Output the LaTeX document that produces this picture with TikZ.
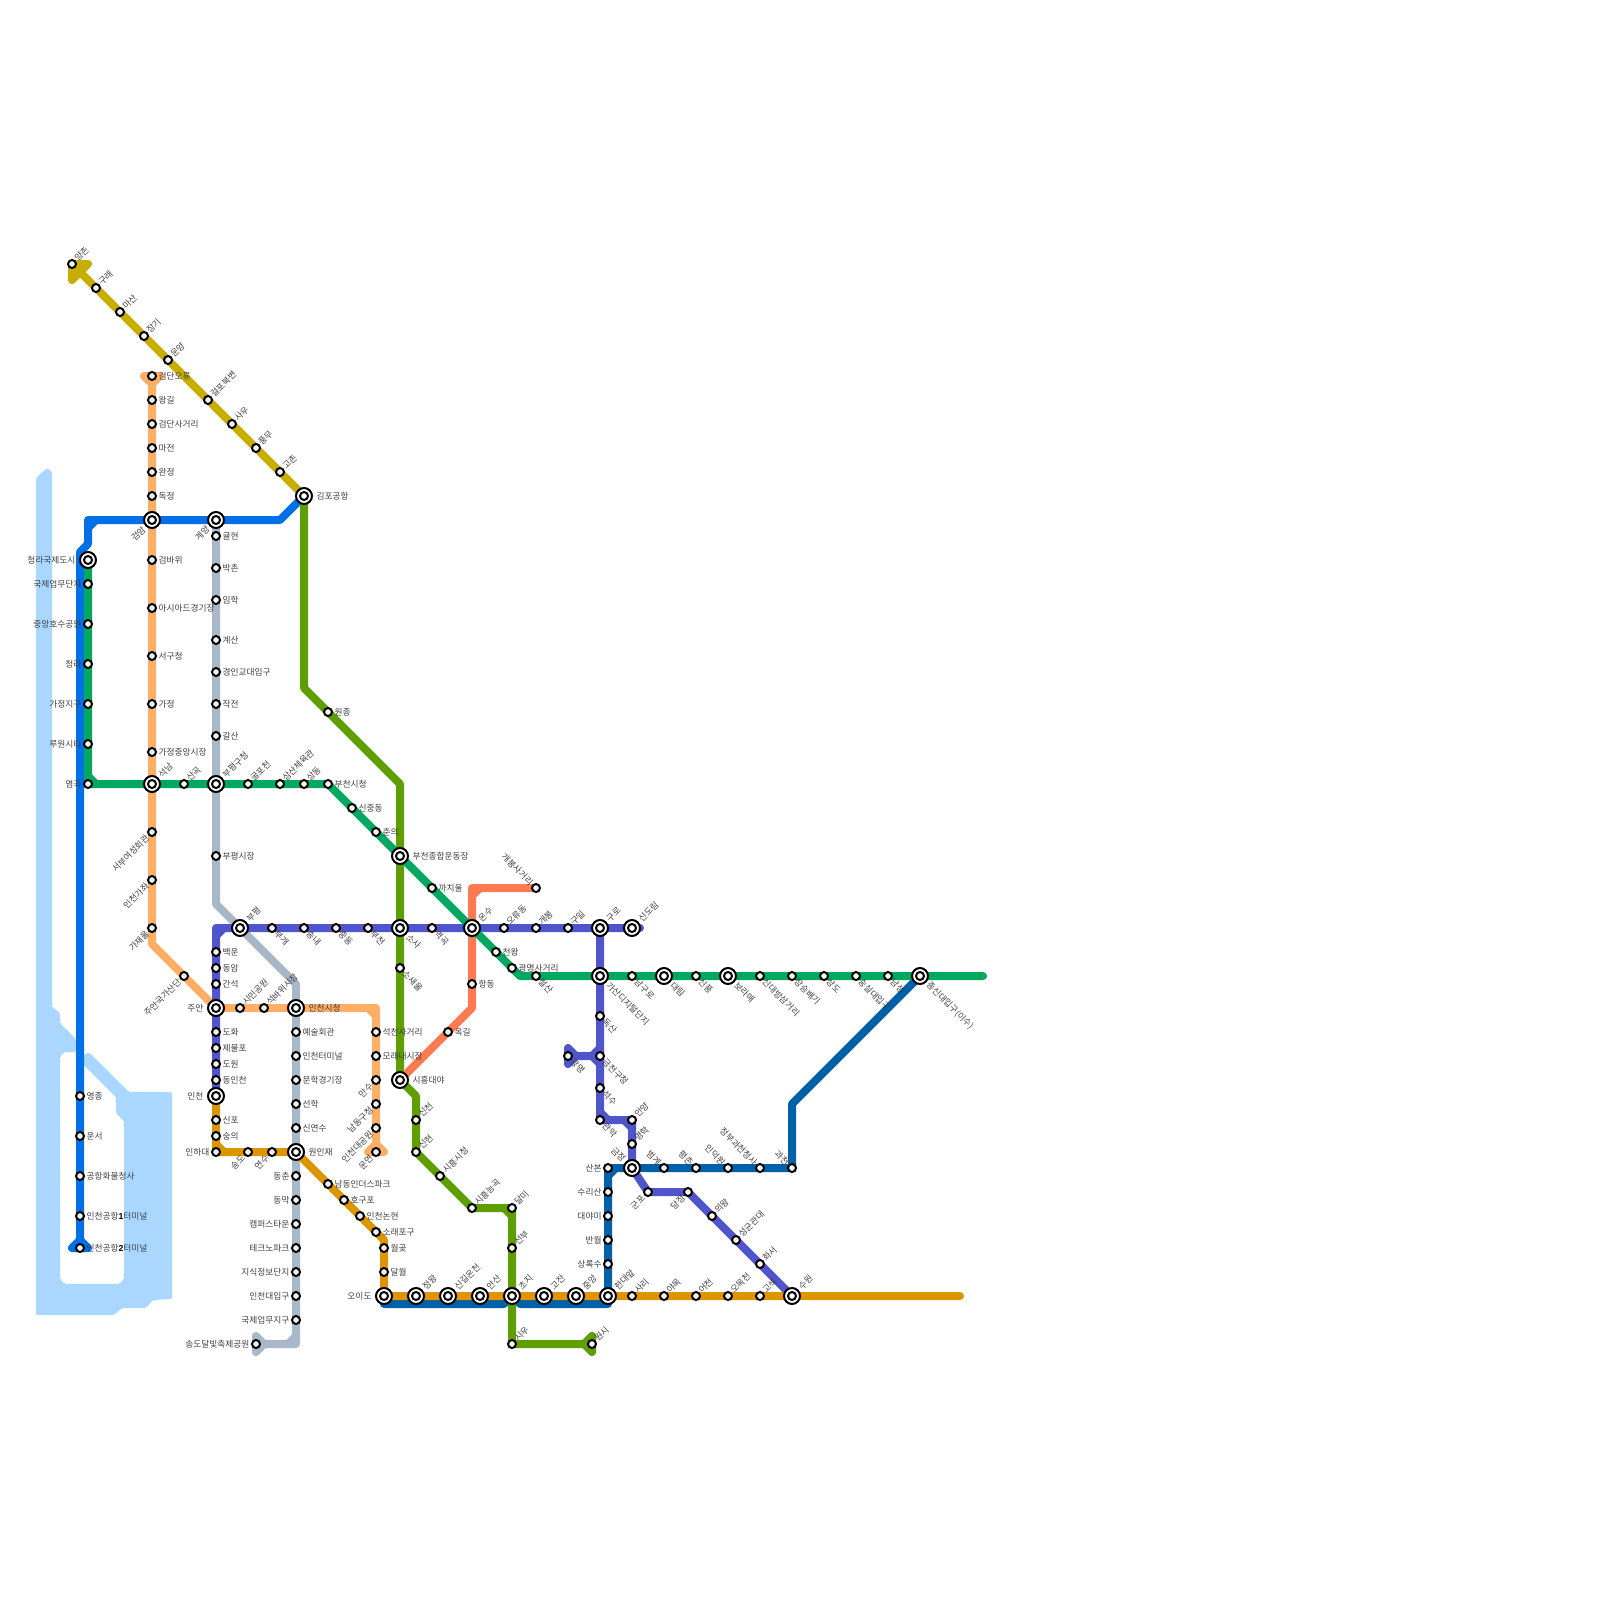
\documentclass[tikz,border=0pt]{standalone}
\usepackage{fontspec}
\setmainfont{Noto Sans CJK KR}
\newfontfamily\dgtfont{Liberation Sans}
\usetikzlibrary{calc}
\pgfdeclarelayer{bg}
\pgfsetlayers{bg,main}
\definecolor{cwater}{HTML}{A9D7FF}
\definecolor{cfive}{HTML}{C8AE00}
\definecolor{cair}{HTML}{0070E6}
\definecolor{cgreen}{HTML}{00A860}
\definecolor{corange}{HTML}{FFAE66}
\definecolor{cgrey}{HTML}{A8B8C8}
\definecolor{cpurple}{HTML}{5055CC}
\definecolor{colive}{HTML}{5F9E00}
\definecolor{cred}{HTML}{FF7A50}
\definecolor{cblue}{HTML}{0060A8}
\definecolor{cgold}{HTML}{DD9500}
\definecolor{ctext}{HTML}{404040}
\tikzset{
  rail/.style={line width=8pt,line join=round,line cap=round},
  flare/.style={line width=8pt,line join=round,fill=#1,draw=#1},
  smallst/.style={circle,draw=black,fill=white,line width=2pt,minimum size=8pt,inner sep=0pt},
  bigst/.style={circle,draw=black,fill=white,line width=2pt,minimum size=16pt,inner sep=0pt,
    path picture={\draw[black,line width=2pt] (path picture bounding box.center) circle[radius=4pt];}},
  lbl/.style={inner sep=0pt,outer sep=0pt,text=ctext,font=\fontsize{8.7}{8.7}\selectfont},
  lR/.style={anchor=west},
  lL/.style={anchor=east},
  lUR/.style={anchor=west,rotate=45},
  lDR/.style={anchor=west,rotate=-45},
  lDL/.style={anchor=east,rotate=45},
  lUL/.style={anchor=east,rotate=-45},
}
\newcommand{\dR}{6.5,0}\newcommand{\dL}{-6.5,0}
\newcommand{\dUR}{4,-4.5}\newcommand{\dDR}{4,4.5}
\newcommand{\dDL}{-4.5,4.5}\newcommand{\dUL}{-4.5,-4.5}
\newcommand{\bR}{12.5,0}\newcommand{\bL}{-12.5,0}
\newcommand{\bUR}{8,-8}\newcommand{\bDR}{8,8}
\newcommand{\bDL}{-8,8}\newcommand{\bUL}{-8,-8}
\newcommand{\stn}[5]{\node[smallst] (#1) at (#2,#3) {};
  \node[lbl,l#4] (#1t) at ([shift={(\csname d#4\endcsname)}]#1.center) {#5};}
\newcommand{\ist}[5]{\node[bigst] (#1) at (#2,#3) {};
  \node[lbl,l#4] (#1t) at ([shift={(\csname b#4\endcsname)}]#1.center) {#5};}
\begin{document}
\begin{tikzpicture}[x=1pt,y=-1pt]
\useasboundingbox (0,0) rectangle (1600,1600);
% Line 5
\stn{yangchon}{72}{264}{UR}{양촌}
\stn{gurae}{96}{288}{UR}{구래}
\stn{masan}{120}{312}{UR}{마산}
\stn{janggi}{144}{336}{UR}{장기}
\stn{unyang}{168}{360}{UR}{운양}
\stn{geolpo}{208}{400}{UR}{걸포북변}
\stn{sau}{232}{424}{UR}{사우}
\stn{pungmu}{256}{448}{UR}{풍무}
\stn{gochon}{280}{472}{UR}{고촌}
\ist{gimpo}{304}{496}{R}{김포공항}
% Seo-gu orange
\stn{oryu}{152}{376}{R}{검단오류}
\stn{wanggil}{152}{400}{R}{왕길}
\stn{geomdan}{152}{424}{R}{검단사거리}
\stn{majeon}{152}{448}{R}{마전}
\stn{wanjeong}{152}{472}{R}{완정}
\stn{dokjeong}{152}{496}{R}{독정}
\ist{geomam}{152}{520}{DL}{검암}
\stn{geombawi}{152}{560}{R}{검바위}
\stn{asiad}{152}{608}{R}{아시아드경기장}
\stn{seogu}{152}{656}{R}{서구청}
\stn{gajeong}{152}{704}{R}{가정}
\stn{gjmarket}{152}{752}{R}{가정중앙시장}
\ist{seoknam}{152}{784}{UR}{석남}
\stn{seobu}{152}{832}{DL}{서부여성회관}
\stn{gajwa}{152}{880}{DL}{인천가좌}
\stn{gajaeul}{152}{928}{DL}{가재울}
\stn{juangs}{184}{976}{DL}{주안국가산단}
\ist{juan}{216}{1008}{L}{주안}
\stn{simin}{240}{1008}{UR}{시민공원}
\stn{seokbawi}{264}{1008}{UR}{석바위시장}
\ist{cityhall}{296}{1008}{R}{인천시청}
\stn{seokcheon}{376}{1032}{R}{석천사거리}
\stn{moraenae}{376}{1056}{R}{모래내시장}
\stn{mansu}{376}{1080}{DL}{만수}
\stn{namdong}{376}{1104}{DL}{남동구청}
\stn{daegongwon}{376}{1128}{DL}{인천대공원}
\stn{unyeon}{376}{1152}{DL}{운연}
% Grey
\ist{gyeyang}{216}{520}{DL}{계양}
\stn{gyulhyeon}{216}{536}{R}{귤현}
\stn{bakchon}{216}{568}{R}{박촌}
\stn{imhak}{216}{600}{R}{임학}
\stn{gyesan}{216}{640}{R}{계산}
\stn{gyodae}{216}{672}{R}{경인교대입구}
\stn{jakjeon}{216}{704}{R}{작전}
\stn{galsan}{216}{736}{R}{갈산}
\ist{bpgucheong}{216}{784}{UR}{부평구청}
\stn{bpmarket}{216}{856}{R}{부평시장}
\ist{bupyeong}{240}{928}{UR}{부평}
\stn{yesul}{296}{1032}{R}{예술회관}
\stn{terminal}{296}{1056}{R}{인천터미널}
\stn{munhak}{296}{1080}{R}{문학경기장}
\stn{seonhak}{296}{1104}{R}{선학}
\stn{sinyeonsu}{296}{1128}{R}{신연수}
\ist{woninjae}{296}{1152}{R}{원인재}
\stn{dongchun}{296}{1176}{L}{동춘}
\stn{dongmak}{296}{1200}{L}{동막}
\stn{campus}{296}{1224}{L}{캠퍼스타운}
\stn{techno}{296}{1248}{L}{테크노파크}
\stn{jisik}{296}{1272}{L}{지식정보단지}
\stn{incheonu}{296}{1296}{L}{인천대입구}
\stn{gukje}{296}{1320}{L}{국제업무지구}
\stn{dalbit}{256}{1344}{L}{송도달빛축제공원}
% Airport
\ist{cheongnaic}{88}{560}{L}{청라국제도시}
\stn{yeongjong}{80}{1096}{R}{영종}
\stn{unseo}{80}{1136}{R}{운서}
\stn{cargo}{80}{1176}{R}{공항화물청사}
\stn{tone}{80}{1216}{R}{인천공항{\dgtfont\bfseries\color{black}1}터미널}
\stn{ttwo}{80}{1248}{R}{인천공항{\dgtfont\bfseries\color{black}2}터미널}
% Green
\stn{gukjeup}{88}{584}{L}{국제업무단지}
\stn{jungang}{88}{624}{L}{중앙호수공원}
\stn{cheongna}{88}{664}{L}{청라}
\stn{gjjigu}{88}{704}{L}{가정지구}
\stn{ruwon}{88}{744}{L}{루원시티}
\stn{yeomgok}{88}{784}{L}{염곡}
\stn{sangok}{184}{784}{UR}{산곡}
\stn{gulpo}{248}{784}{UR}{굴포천}
\stn{samsan}{280}{784}{UR}{삼산체육관}
\stn{sangdong}{304}{784}{UR}{상동}
\stn{bucheoncity}{328}{784}{R}{부천시청}
\stn{sinjung}{352}{808}{R}{신중동}
\stn{chunui}{376}{832}{R}{춘의}
\ist{bcstadium}{400}{856}{R}{부천종합운동장}
\stn{kkachi}{432}{888}{R}{까치울}
\ist{onsu}{472}{928}{UR}{온수}
\stn{cheonwang}{496}{952}{R}{천왕}
\stn{gwangsa}{512}{968}{R}{광명사거리}
\stn{cheolsan}{536}{976}{DR}{철산}
\ist{gasan}{600}{976}{DR}{가산디지털단지}
\stn{namguro}{632}{976}{DR}{남구로}
\ist{daerim}{664}{976}{DR}{대림}
\stn{sinpung}{696}{976}{DR}{신풍}
\ist{boramae}{728}{976}{DR}{보라매}
\stn{sindaebang}{760}{976}{DR}{신대방삼거리}
\stn{jangseung}{792}{976}{DR}{장승배기}
\stn{sangdo}{824}{976}{DR}{상도}
\stn{soongsil}{856}{976}{DR}{숭실대입구}
\stn{namseong}{888}{976}{DR}{남성}
\ist{chongsin}{920}{976}{DR}{총신대입구(이수)}
% Purple
\stn{baegun}{216}{952}{R}{백운}
\stn{dongam}{216}{968}{R}{동암}
\stn{ganseok}{216}{984}{R}{간석}
\stn{dohwa}{216}{1032}{R}{도화}
\stn{jemulpo}{216}{1048}{R}{제물포}
\stn{dowon}{216}{1064}{R}{도원}
\stn{dongincheon}{216}{1080}{R}{동인천}
\ist{incheon}{216}{1096}{L}{인천}
\stn{bugae}{272}{928}{DR}{부개}
\stn{songnae}{304}{928}{DR}{송내}
\stn{jungdong}{336}{928}{DR}{중동}
\stn{bucheon}{368}{928}{DR}{부천}
\ist{sosa}{400}{928}{DR}{소사}
\stn{yeokgok}{432}{928}{DR}{역곡}
\stn{oryudong}{504}{928}{UR}{오류동}
\stn{gaebong}{536}{928}{UR}{개봉}
\stn{guil}{568}{928}{UR}{구일}
\ist{guro}{600}{928}{UR}{구로}
\ist{sindorim}{632}{928}{UR}{신도림}
\stn{doksan}{600}{1016}{DR}{독산}
\stn{geumcheon}{600}{1056}{DR}{금천구청}
\stn{gwangmyeong}{568}{1056}{DR}{광명}
\stn{seoksu}{600}{1088}{DR}{석수}
\stn{gwanak}{600}{1120}{DR}{관악}
\stn{anyang}{632}{1120}{UR}{안양}
\stn{myeonghak}{632}{1144}{UR}{명학}
\ist{geumjeong}{632}{1168}{UL}{금정}
\stn{gunpo}{648}{1192}{DL}{군포}
\stn{dangjeong}{688}{1192}{DL}{당정}
\stn{uiwang}{712}{1216}{UR}{의왕}
\stn{skku}{736}{1240}{UR}{성균관대}
\stn{hwaseo}{760}{1264}{UR}{화서}
\ist{suwon}{792}{1296}{UR}{수원}
% Blue
\stn{sanbon}{608}{1168}{L}{산본}
\stn{surisan}{608}{1192}{L}{수리산}
\stn{daeyami}{608}{1216}{L}{대야미}
\stn{banwol}{608}{1240}{L}{반월}
\stn{sangnoksu}{608}{1264}{L}{상록수}
\stn{beomgye}{664}{1168}{UL}{범계}
\stn{pyeongchon}{696}{1168}{UL}{평촌}
\stn{indeogwon}{728}{1168}{UL}{인덕원}
\stn{gwacheonch}{760}{1168}{UL}{정부과천청사}
\stn{gwacheon}{792}{1168}{UL}{과천}
% Gold
\stn{sinpo}{216}{1120}{R}{신포}
\stn{sungui}{216}{1136}{R}{숭의}
\stn{inha}{216}{1152}{L}{인하대}
\stn{songdo}{248}{1152}{DL}{송도}
\stn{yeonsu}{272}{1152}{DL}{연수}
\stn{namind}{328}{1184}{R}{남동인더스파크}
\stn{hogupo}{344}{1200}{R}{호구포}
\stn{nonhyeon}{360}{1216}{R}{인천논현}
\stn{soraepo}{376}{1232}{R}{소래포구}
\stn{wolgot}{384}{1248}{R}{월곶}
\stn{dalwol}{384}{1272}{R}{달월}
\ist{oido}{384}{1296}{L}{오이도}
\ist{jeongwang}{416}{1296}{UR}{정왕}
\ist{singil}{448}{1296}{UR}{신길온천}
\ist{ansan}{480}{1296}{UR}{안산}
\ist{choji}{512}{1296}{UR}{초지}
\ist{gojan}{544}{1296}{UR}{고잔}
\ist{jungangst}{576}{1296}{UR}{중앙}
\ist{handae}{608}{1296}{UR}{한대앞}
\stn{sari}{632}{1296}{UR}{사리}
\stn{yamok}{664}{1296}{UR}{야목}
\stn{eocheon}{696}{1296}{UR}{어천}
\stn{omokcheon}{728}{1296}{UR}{오목천}
\stn{gosaek}{760}{1296}{UR}{고색}
% Olive
\stn{wonjong}{328}{712}{R}{원종}
\stn{sosaeul}{400}{968}{DR}{소새울}
\ist{siheung}{400}{1080}{R}{시흥대야}
\stn{sincheon}{416}{1120}{UR}{신천}
\stn{sinhyeon}{416}{1152}{UR}{신현}
\stn{shcity}{440}{1176}{UR}{시흥시청}
\stn{neunggok}{472}{1208}{UR}{시흥능곡}
\stn{dalmi}{512}{1208}{UR}{달미}
\stn{seonbu}{512}{1248}{UR}{선부}
\stn{siu}{512}{1344}{UR}{시우}
\stn{wonsi}{592}{1344}{UR}{원시}
% Red
\stn{okgil}{448}{1032}{R}{옥길}
\stn{hangdong}{472}{984}{R}{항동}
\stn{gaebongsa}{536}{888}{UL}{개봉사거리}
% free ends of connectors
\coordinate (greenend) at (983,976);
\coordinate (goldend) at (960,1296);
\coordinate (purpleend) at (640,928);
\begin{pgfonlayer}{bg}
% water
\fill[cwater,rounded corners=1.5pt] (36,478)--(47,468)--(52,472)--(52,1007)--(60,1013)--(60,1023)--(76,1039)--(76,1052)--(64,1052)--(60,1057)--(60,1279)--(65,1284)--(119,1284)--(124,1279)--(124,1121)--(116,1113)--(116,1097)--(80,1061)--(86,1053)--(90,1053)--(129,1092)--(172,1092)--(172,1299)--(153,1300)--(146,1308)--(122,1308)--(114,1315)--(36,1315)--cycle;
% grey
\draw[rail,cgrey] (gyeyang.center)--(bpmarket.center)--(216,904)--(bupyeong.center)--(296,984)--(cityhall.center)--(gukje.center)--(296,1344)--(dalbit.center) (296,1336)--(288,1344);
\filldraw[flare=cgrey] (256,1336)--(256,1352)--(264,1344)--cycle;
% orange
\draw[rail,corange] (oryu.center)--(gajaeul.center)--(152,944)--(juan.center)--(376,1008)--(unyeon.center) (368,1008)--(376,1016);
\filldraw[flare=corange] (144,376)--(160,376)--(152,384)--cycle;
\filldraw[flare=corange] (368,1152)--(384,1152)--(376,1144)--cycle;
% airport
\draw[rail,cair] (ttwo.center)--(80,552)--(88,544)--(88,520)--(280,520)--(gimpo.center) (88,528)--(96,520);
\filldraw[flare=cair] (72,1248)--(88,1248)--(80,1240)--cycle;
% blue
\draw[rail,cblue] (chongsin.center)--(792,1104)--(gwacheon.center)--(sanbon.center)--(handae.center)--(608,1304)--(520,1304)--(choji.center)--(504,1304)--(384,1304)--(oido.center) (608,1176)--(616,1168);
% purple
\draw[rail,cpurple] (incheon.center)--(216,928)--(purpleend) (216,936)--(224,928);
\draw[rail,cpurple] (guro.center)--(gwanak.center)--(anyang.center)--(geumjeong.center)--(gunpo.center)--(dangjeong.center)--(suwon.center) (600,1112)--(608,1120) (624,1120)--(632,1128);
\draw[rail,cpurple] (gwangmyeong.center)--(geumcheon.center) (592,1056)--(600,1048) (592,1056)--(600,1064);
\filldraw[flare=cpurple] (568,1048)--(568,1064)--(576,1056)--cycle;
% olive
\draw[rail,colive] (gimpo.center)--(304,688)--(400,784)--(siheung.center)--(416,1096)--(sinhyeon.center)--(neunggok.center)--(dalmi.center)--(siu.center)--(wonsi.center) (504,1208)--(512,1216);
\filldraw[flare=colive] (592,1336)--(592,1352)--(584,1344)--cycle;
% red
\draw[rail,cred] (siheung.center)--(472,1008)--(472,888)--(gaebongsa.center) (472,896)--(480,888);
% green
\draw[rail,cgreen] (cheongnaic.center)--(yeomgok.center)--(bucheoncity.center)--(gwangsa.center)--(520,976)--(greenend) (88,776)--(96,784);
% line 5
\draw[rail,cfive] (yangchon.center)--(gimpo.center);
\filldraw[flare=cfive] (88,264)--(yangchon.center)--(72,280)--cycle;
% gold
\draw[rail,cgold] (incheon.center)--(inha.center)--(woninjae.center)--(soraepo.center)--(384,1240)--(oido.center)--(goldend) (216,1144)--(224,1152);
\end{pgfonlayer}
\end{tikzpicture}
\end{document}
